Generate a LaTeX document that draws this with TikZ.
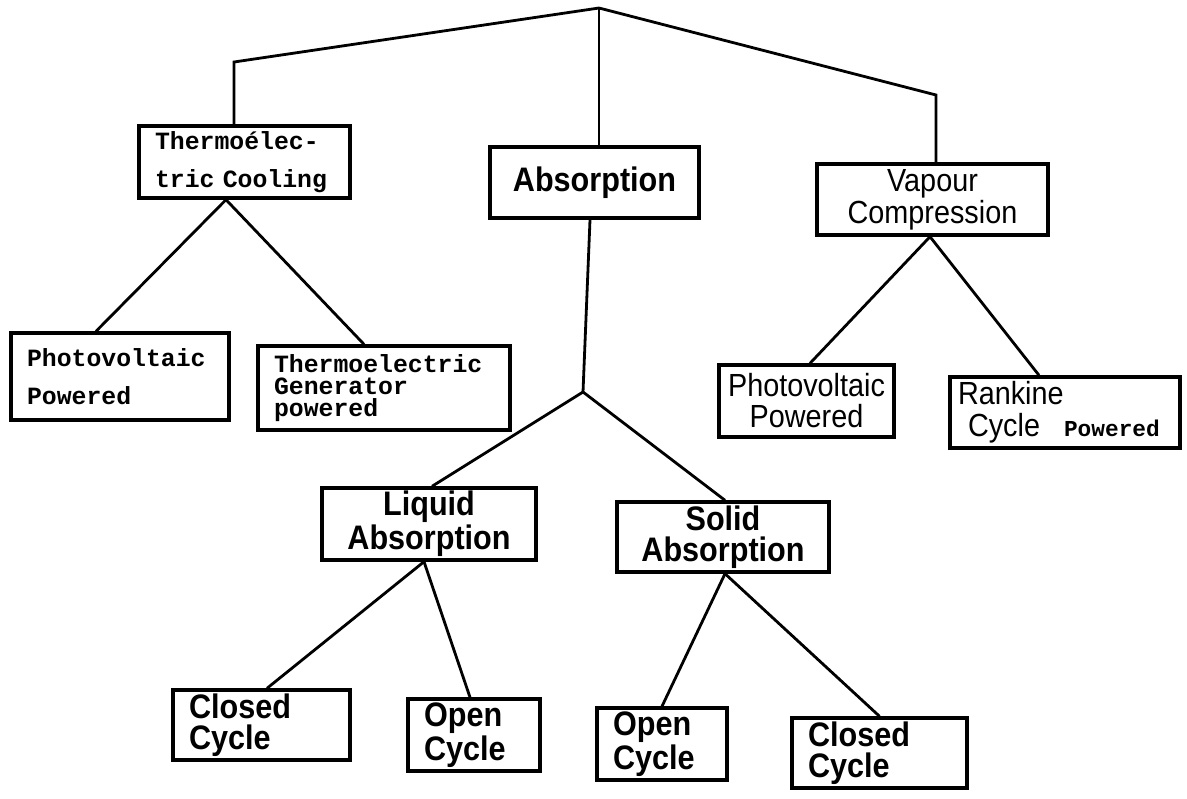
\documentclass[tikz,border=0pt]{standalone}
\usepackage{fontspec}
\setmainfont{Liberation Sans}
\setmonofont{Liberation Mono}
\newfontfamily\narrowsans[FakeStretch=0.9]{Liberation Sans}
\usepackage{tikz}
\usetikzlibrary{positioning}

\begin{document}
\begin{tikzpicture}[
    x=0.5pt, y=-0.5pt,
    box/.style={draw=black, line width=1.7pt, inner xsep=8pt, inner ysep=0pt},
    lbox/.style={box, align=left},
    cbox/.style={box, align=center},
    branch/.style={line width=1.4pt},
    typetext/.style={font=\ttfamily\bfseries\fontsize{12.4}{19}\selectfont},
    typetight/.style={font=\ttfamily\bfseries\fontsize{12.4}{11}\selectfont},
    boldtext/.style={font=\narrowsans\bfseries\fontsize{17}{15.5}\selectfont},
    plaintext/.style={font=\narrowsans\fontsize{16}{14}\selectfont}
]
\useasboundingbox (0,0) rectangle (1187,798);

\coordinate (apex) at (599,8);
\coordinate (tcbend) at (234,62);
\coordinate (vcbend) at (936,95);
\coordinate (absjoin) at (583,392);

\node[lbox, typetext, text width=89.5pt, minimum height=36pt] (tc) at (244.5,162) {Thermoélec-\\tric Cooling};
\node[cbox, boldtext, minimum width=104.5pt, minimum height=35.5pt] (abs) at (594.5,182.5) {Absorption};
\node[cbox, plaintext, minimum width=115.5pt, minimum height=35.5pt] (vc) at (932.5,199.5) {Vapour\\Compression};

\node[lbox, typetext, text width=93pt, minimum height=43.5pt] (pvl) at (120,376.5) {Photovoltaic\\Powered};
\node[lbox, typetight, text width=110pt, minimum height=42pt] (teg) at (384,388) {Thermoelectric\\Generator\\powered};
\node[cbox, plaintext, minimum width=87.5pt, minimum height=36pt, inner xsep=2pt, font=\narrowsans\fontsize{16}{15.5}\selectfont] (pvr) at (806.5,401) {Photovoltaic\\Powered};
\node[lbox, plaintext, inner xsep=4pt, text width=107pt, minimum height=35.5pt, font=\narrowsans\fontsize{16}{16}\selectfont] (rcp) at (1065,412.5) {Rankine\\\hspace*{5pt}Cycle\hspace{12pt}{\ttfamily\bfseries\fontsize{11.4}{14}\selectfont Powered}};

\node[cbox, boldtext, minimum width=107pt, minimum height=36pt] (liq) at (429,524) {Liquid\\Absorption};
\node[cbox, boldtext, minimum width=106pt, minimum height=35pt] (sol) at (723,537) {Solid\\Absorption};

\node[lbox, boldtext, text width=72.5pt, minimum height=35pt] (ccl) at (261.5,725) {Closed\\Cycle};
\node[lbox, boldtext, text width=50pt, minimum height=36pt] (ocl) at (474,735) {Open\\Cycle};
\node[lbox, boldtext, text width=49pt, minimum height=36pt] (ocs) at (662,744) {Open\\Cycle};
\node[lbox, boldtext, text width=71.5pt, minimum height=35pt] (ccs) at (879.5,753) {Closed\\Cycle};

\coordinate (tcfork) at ([xshift=-9.25pt]tc.south);
\coordinate (vcfork) at ([xshift=-1.25pt]vc.south);
\coordinate (liqfork) at ([xshift=-2.5pt]liq.south);
\coordinate (solfork) at ([xshift=1pt]sol.south);

\draw[branch] (apex) -- (tcbend) -- (tcbend |- tc.north);
\draw[branch] (apex) -- (apex |- abs.north);
\draw[branch] (apex) -- (vcbend) -- (vcbend |- vc.north);

\draw[branch] (tcfork) -- ([xshift=-12pt]pvl.north);
\draw[branch] (tcfork) -- ([xshift=-10pt]teg.north);
\draw[branch] ([xshift=-2.25pt]abs.south) -- (absjoin);
\draw[branch] (absjoin) -- ([xshift=1.5pt]liq.north);
\draw[branch] (absjoin) -- ([xshift=1pt]sol.north);
\draw[branch] (vcfork) -- ([xshift=1.75pt]pvr.north);
\draw[branch] (vcfork) -- ([xshift=-13pt]rcp.north);
\draw[branch] (liqfork) -- ([xshift=2.75pt]ccl.north);
\draw[branch] (liqfork) -- ([xshift=-2pt]ocl.north);
\draw[branch] (solfork) -- (ocs.north);
\draw[branch] (solfork) -- (ccs.north);
\end{tikzpicture}
\end{document}
